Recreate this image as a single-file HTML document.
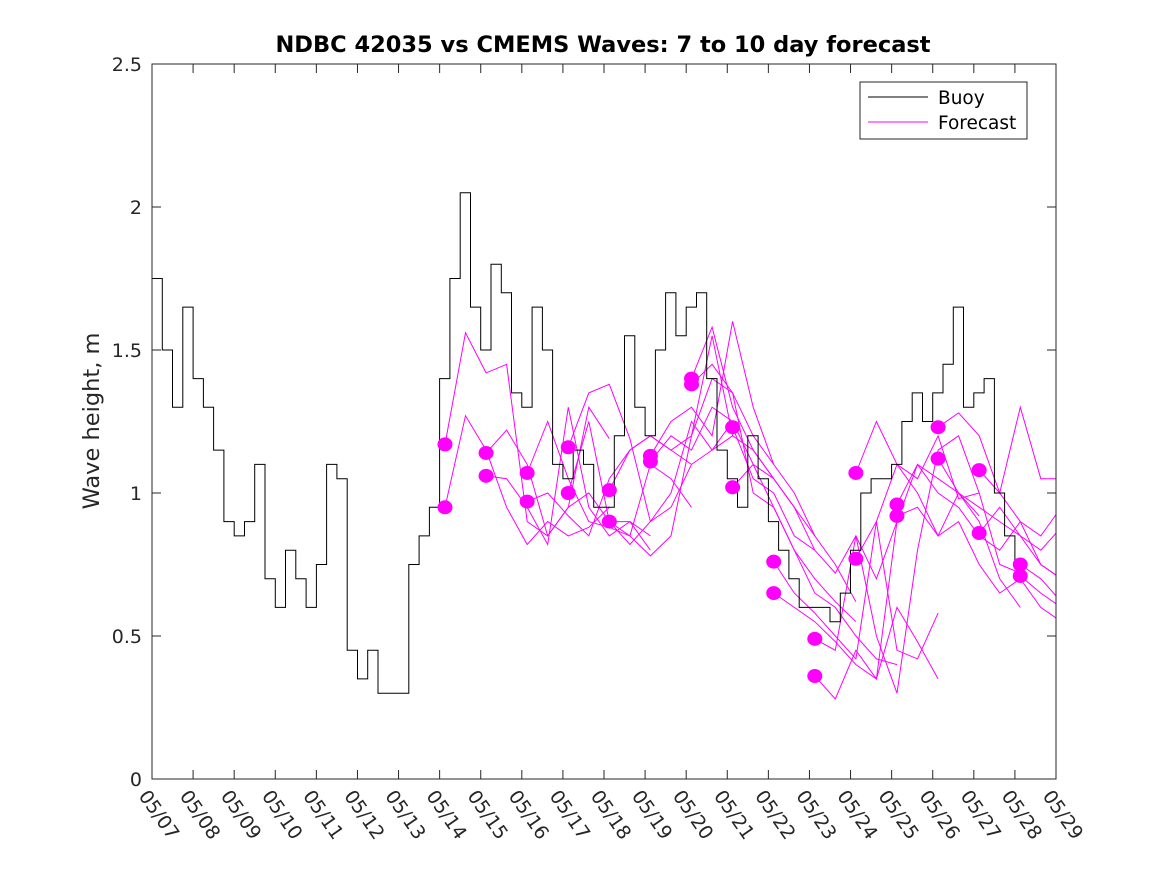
<!DOCTYPE html>
<html><head><meta charset="utf-8"><style>
body{margin:0;background:#fff}
text{font-family:"DejaVu Sans","Liberation Sans",sans-serif;fill:#262626}
</style></head><body>
<svg id="chart" width="1167" height="875" viewBox="0 0 1167 875" xmlns="http://www.w3.org/2000/svg">
<defs><clipPath id="pc"><rect x="152" y="64" width="904" height="715"/></clipPath></defs>
<rect width="1167" height="875" fill="#fff"/>
<text x="603" y="52" text-anchor="middle" font-size="22.5" font-weight="bold" style="fill:#000">NDBC 42035 vs CMEMS Waves: 7 to 10 day forecast</text>
<text transform="translate(99,421) rotate(-90)" text-anchor="middle" font-size="22.5">Wave height, m</text>
<g id="axes"></g>
<g id="series" clip-path="url(#pc)"></g>
<rect x="152" y="64" width="904" height="715" fill="none" stroke="#262626" stroke-width="1"/>
<g>
<rect x="860" y="82" width="167" height="57" fill="#fff" stroke="#262626"/>
<line x1="868" y1="97" x2="928" y2="97" stroke="#000"/>
<text x="938" y="104" font-size="18.5" style="fill:#000">Buoy</text>
<line x1="868" y1="122" x2="928" y2="122" stroke="#f0f"/>
<text x="938" y="129" font-size="18.5" style="fill:#000">Forecast</text>
</g>
</svg>
<script>
const xTickLabels=["05/07","05/08","05/09","05/10","05/11","05/12","05/13","05/14","05/15","05/16","05/17","05/18","05/19","05/20","05/21","05/22","05/23","05/24","05/25","05/26","05/27","05/28","05/29"];
const yTicks=[0,0.5,1,1.5,2,2.5];
const yTickLabels=["0","0.5","1","1.5","2","2.5"];
// buoy values at 6-hour steps starting 05/07
const buoy=[1.75,1.5,1.3,1.65, 1.4,1.3,1.15,0.9, 0.85,0.9,1.1,0.7, 0.6,0.8,0.7,0.6, 0.75,1.1,1.05,0.45,
 0.35,0.45,0.3,0.3, 0.3,0.75,0.85,0.95, 1.4,1.75,2.05,1.65, 1.5,1.8,1.7,1.35, 1.3,1.65,1.5,1.1,
 1.05,1.15,1.1,0.95, 0.95,1.2,1.55,1.3, 1.2,1.5,1.7,1.55, 1.65,1.7,1.4,1.15, 1.05,0.95,1.2,1.05,
 0.9,0.8,0.7,0.6, 0.6,0.6,0.55,0.65, 0.8,1.0,1.05,1.05, 1.1,1.25,1.35,1.25, 1.35,1.45,1.65,1.3,
 1.35,1.4,1.0,0.85, 0.75];
const buoyStep=0.25;
// forecast runs: start day offset, values every 0.5 day
const fcStarts=[7.13,7.13,8.13,8.13,9.13,9.13,10.13,10.13,11.13,11.13,12.13,12.13,13.13,13.13,14.13,14.13,15.13,15.13,16.13,16.13,17.13,17.13,18.13,18.13,19.13,19.13,20.13,20.13,21.13,21.13];
const fcValues=[
[1.17,1.56,1.42,1.45,0.9,0.85,0.95,1.3,1.19],[0.95,1.27,1.15,0.95,0.82,0.9,0.85,0.88,0.95],
[1.14,1.22,1.1,0.85,0.95,1.0,0.9,0.9,0.8],[1.06,1.05,0.95,0.82,1.3,0.95,0.85,0.9,0.85],
[1.07,1.25,1.05,0.9,0.88,0.85,1.1,1.05,0.95],[0.97,1.0,0.92,0.85,1.05,1.15,1.2,1.15,1.1],
[1.16,1.35,1.38,1.19,0.9,0.95,1.1,1.15,1.2],[1.0,1.25,0.9,0.82,0.9,1.0,1.25,1.15,1.25],
[1.01,1.15,1.2,1.15,1.2,1.55,1.2,1.15,1.05],[0.90,0.85,0.78,0.85,1.2,1.4,1.35,1.2,1.1],
[1.13,1.25,1.3,1.2,1.6,1.3,1.1,1.0,0.85],[1.11,1.2,1.15,1.3,1.25,1.1,1.05,0.95,0.8],
[1.40,1.58,1.3,1.15,1.05,0.95,0.85,0.75,0.62],[1.38,1.45,1.35,1.0,0.95,0.8,0.7,0.62,0.55],
[1.23,1.05,1.0,0.85,0.8,0.72,0.85,0.7,0.9],[1.02,1.1,0.95,0.8,0.65,0.6,0.5,0.42,0.4],
[0.76,0.65,0.58,0.5,0.42,0.9,0.45,0.42,0.58],[0.65,0.6,0.55,0.48,0.4,0.35,0.6,0.48,0.35],
[0.49,0.45,0.85,0.5,0.3,0.8,1.15,1.2,1.0],[0.36,0.28,0.45,0.35,0.9,1.1,1.05,1.0,0.92],
[1.07,1.25,1.1,1.05,1.2,0.98,1.0,0.75,0.72],[0.77,0.9,1.1,1.0,0.85,1.0,0.9,0.7,0.6],
[0.96,1.1,1.0,0.95,0.85,0.8,0.9,0.75,0.7],[0.92,0.95,0.85,0.9,0.75,0.65,0.7,0.6,0.55],
[1.23,1.28,1.2,1.0,1.3,1.05,1.05,1.25,1.22],[1.12,1.0,0.95,0.9,0.85,0.8,0.88,1.0,1.2],
[1.08,1.0,0.9,0.85,0.95,0.82,0.7,0.75],[0.86,0.95,0.85,0.75,0.7,0.72,0.7],
[0.75,0.7,0.62,0.6,0.55],[0.71,0.65,0.6,0.55]];
const fcStep=0.5;

const X0=152,X1=1056,Y0=779,Y1=64,NDAYS=22,YMAX=2.5;
const xs=d=>X0+(X1-X0)*d/NDAYS;
const ys=v=>Y0-(Y0-Y1)*v/YMAX;
const NS="http://www.w3.org/2000/svg";
function mk(tag,attrs,parent){const e=document.createElementNS(NS,tag);for(const k in attrs)e.setAttribute(k,attrs[k]);parent.appendChild(e);return e;}
const axes=document.getElementById('axes'),series=document.getElementById('series');
xTickLabels.forEach((lab,i)=>{
  const x=xs(i);
  const t1=mk('line',{x1:x,y1:Y0,x2:x,y2:Y0-9,stroke:'#262626'},axes);
  
  
  const t2=mk('line',{x1:x,y1:Y1,x2:x,y2:Y1+9,stroke:'#262626'},axes);
  
  
  const tx=mk('text',{transform:`translate(${x-14},${Y0+17}) rotate(55)`,'font-size':'19'},axes);
  tx.textContent=lab;
  
  
});
yTicks.forEach((v,i)=>{
  const y=ys(v);
  const t1=mk('line',{x1:X0,y1:y,x2:X0+9,y2:y,stroke:'#262626'},axes);
  
  
  const t2=mk('line',{x1:X1,y1:y,x2:X1-9,y2:y,stroke:'#262626'},axes);
  
  
  const tx=mk('text',{x:X0-10,y:y+7,'text-anchor':'end','font-size':'19'},axes);
  tx.textContent=yTickLabels[i];
  
  
});
fcValues.forEach((vals,k)=>{
  const s=fcStarts[k];
  const pts=vals.map((v,j)=>xs(s+j*fcStep).toFixed(1)+','+ys(v).toFixed(1)).join(' ');
  const pl=mk('polyline',{points:pts,fill:'none',stroke:'#f0f','stroke-width':'1'},series);
  
  
});
let d='';
buoy.forEach((v,i)=>{const x=xs(i*buoyStep),y=ys(v);d+=(i?`L${x.toFixed(1)},${ys(buoy[i-1]).toFixed(1)}L`:'M')+x.toFixed(1)+','+y.toFixed(1);});
const bp=mk('path',{d:d,fill:'none',stroke:'#000','stroke-width':'1'},series);


fcValues.forEach((vals,k)=>{
  const c=mk('ellipse',{cx:xs(fcStarts[k]),cy:ys(vals[0]),rx:7.5,ry:7,fill:'#f0f'},series);
  
  
});
</script>
</body></html>
